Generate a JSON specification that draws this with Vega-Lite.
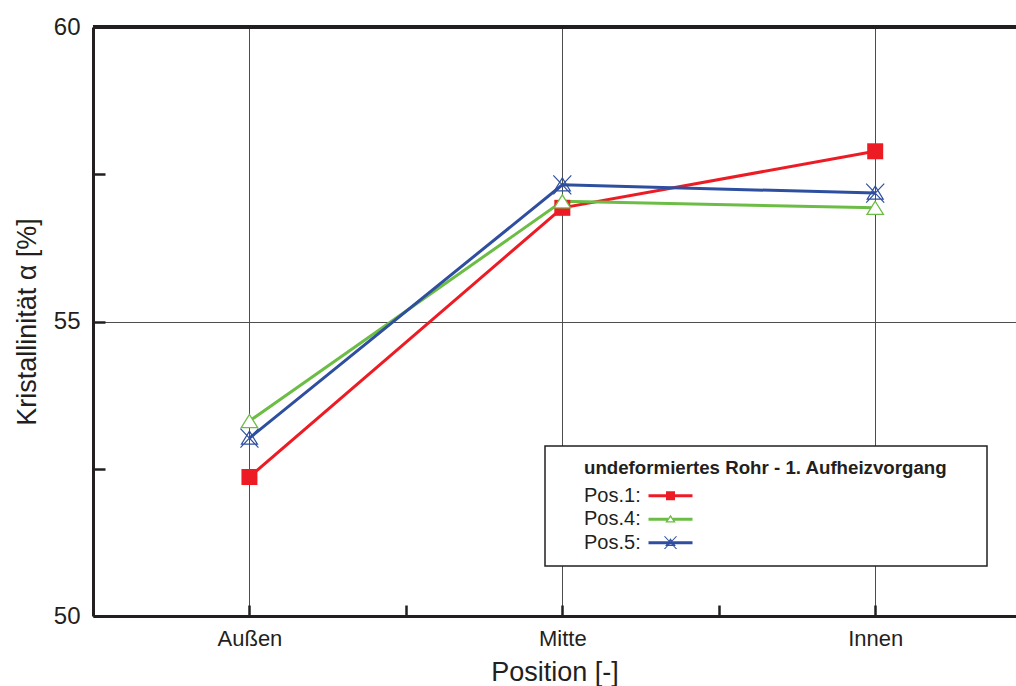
{
  "$schema": "https://vega.github.io/schema/vega-lite/v6.json",
  "width": 923,
  "height": 589,
  "autosize": {"type": "none"},
  "padding": {"left": 93, "top": 27, "right": 0, "bottom": 70},
  "background": "white",
  "config": {"font": "Liberation Sans", "view": {"stroke": null}},
  "data": {
    "values": [
      {"pos": 1, "position": "Außen", "series": "Pos.1", "value": 52.36},
      {"pos": 2, "position": "Mitte", "series": "Pos.1", "value": 56.93},
      {"pos": 3, "position": "Innen", "series": "Pos.1", "value": 57.89},
      {"pos": 1, "position": "Außen", "series": "Pos.4", "value": 53.31},
      {"pos": 2, "position": "Mitte", "series": "Pos.4", "value": 57.04},
      {"pos": 3, "position": "Innen", "series": "Pos.4", "value": 56.93},
      {"pos": 1, "position": "Außen", "series": "Pos.5", "value": 53.02},
      {"pos": 2, "position": "Mitte", "series": "Pos.5", "value": 57.32},
      {"pos": 3, "position": "Innen", "series": "Pos.5", "value": 57.18}
    ]
  },
  "layer": [
    {
      "mark": {"type": "rule", "color": "#231f20", "strokeWidth": 3},
      "encoding": {"y": {"datum": 60}}
    },
    {
      "mark": {"type": "line", "strokeWidth": 3},
      "encoding": {
        "x": {
          "field": "pos", "type": "quantitative",
          "scale": {"domain": [0.5, 3.45], "nice": false, "zero": false},
          "axis": {
            "title": "Position [-]",
            "values": [1, 1.5, 2, 2.5, 3],
            "labelExpr": "datum.value === 1 ? 'Außen' : datum.value === 2 ? 'Mitte' : datum.value === 3 ? 'Innen' : ''",
            "labelFontSize": 22, "labelColor": "#231f20", "labelPadding": 23,
            "labelFlush": false, "labelOverlap": false,
            "tickSize": -11, "tickWidth": 2.5, "tickColor": "#231f20",
            "domainColor": "#231f20", "domainWidth": 3,
            "grid": true, "gridColor": "#4d4d4d", "gridWidth": 1,
            "gridOpacity": {"condition": {"test": "datum.value % 1 === 0", "value": 1}, "value": 0},
            "titleFontSize": 27, "titleFontWeight": "normal", "titleColor": "#231f20", "titlePadding": 10,
            "encode": {
              "ticks": {"update": {"y2": {"signal": "datum.value % 1 === 0 ? -11 : -6"}}}
            }
          }
        },
        "y": {
          "field": "value", "type": "quantitative",
          "scale": {"domain": [50, 60], "nice": false, "zero": false},
          "axis": {
            "title": "Kristallinität α [%]",
            "values": [50, 52.5, 55, 57.5, 60],
            "format": "d",
            "labelExpr": "datum.value % 5 === 0 ? datum.label : ''",
            "labelFontSize": 24, "labelColor": "#231f20", "labelPadding": 25,
            "labelFlush": false, "labelOverlap": false,
            "tickSize": -12, "tickWidth": 2.5, "tickColor": "#231f20",
            "domainColor": "#231f20", "domainWidth": 3,
            "grid": true, "gridColor": "#4d4d4d", "gridWidth": 1,
            "gridOpacity": {"condition": {"test": "datum.value % 5 === 0", "value": 1}, "value": 0},
            "titleFontSize": 27, "titleFontWeight": "normal", "titleColor": "#231f20", "titlePadding": 12,
            "encode": {
              "ticks": {"update": {"x2": {"signal": "datum.value % 5 === 0 ? 12 : 7"}}}
            }
          }
        },
        "color": {
          "field": "series", "type": "nominal",
          "scale": {"domain": ["Pos.1", "Pos.4", "Pos.5"], "range": ["#ed1c24", "#6cbd45", "#2e4e9f"]},
          "legend": {
            "title": "\u200b\u00a0\u00a0\u00a0\u00a0\u00a0undeformiertes Rohr - 1. Aufheizvorgang\u00a0\u00a0\u00a0\u00a0\u00a0\u200b",
            "orient": "none", "legendX": 452, "legendY": 419,
            "titleFontSize": 18.7, "titleFontWeight": "bold", "titleColor": "#231f20",
            "titlePadding": 8, "titleLimit": 2000,
            "labelFontSize": 20, "labelColor": "#231f20",
            "labelExpr": "datum.label + ':'",
            "labelOffset": -96.5, "symbolOffset": 102.5, "symbolSize": 100,
            "rowPadding": 3.5, "padding": 13,
            "fillColor": "white", "strokeColor": "#231f20",
            "encode": {
              "legend": {"update": {"strokeWidth": {"value": 1.5}}},
              "symbols": {
                "update": {
                  "shape": {"signal": "datum.value === 'Pos.1' ? 'M-4.4,-0.3L4.4,-0.3L4.4,0.3L-4.4,0.3Z M-0.9,-0.9L0.9,-0.9L0.9,0.9L-0.9,0.9Z' : datum.value === 'Pos.4' ? 'M-4.4,-0.3L-0.5,-0.3L-0.5,0.3L-4.4,0.3Z M0.5,-0.3L4.4,-0.3L4.4,0.3L0.5,0.3Z M0,-0.88L1.06,0.66L-1.06,0.66Z M0,-0.41L-0.55,0.4L0.55,0.4Z' : 'M-4.4,-0.3L4.4,-0.3L4.4,0.3L-4.4,0.3Z M0,-0.88L1.06,0.66L-1.06,0.66Z M0,-0.41L-0.55,0.4L0.55,0.4Z M-1.33,-1.28L-1.07,-1.28L1.33,1.28L1.07,1.28Z M1.07,-1.28L1.33,-1.28L-1.07,1.28L-1.33,1.28Z'"},
                  "fill": {"scale": "color", "field": "value"},
                  "stroke": {"value": "transparent"},
                  "strokeWidth": {"value": 0},
                  "opacity": {"value": 1}
                }
              }
            }
          }
        }
      }
    },
    {
      "transform": [{"filter": "datum.series === 'Pos.1'"}],
      "mark": {"type": "point", "shape": "square", "size": 256, "filled": true, "fill": "#ed1c24", "strokeWidth": 0, "opacity": 1},
      "encoding": {
        "x": {"field": "pos", "type": "quantitative"},
        "y": {"field": "value", "type": "quantitative"}
      }
    },
    {
      "transform": [{"filter": "datum.series === 'Pos.4'"}],
      "mark": {"type": "point", "shape": "M0,-0.8L1,0.8L-1,0.8Z", "size": 269, "filled": false, "fill": "white", "fillOpacity": 1, "stroke": "#6cbd45", "strokeWidth": 1.3, "opacity": 1},
      "encoding": {
        "x": {"field": "pos", "type": "quantitative"},
        "y": {"field": "value", "type": "quantitative"}
      }
    },
    {
      "transform": [{"filter": "datum.series === 'Pos.5'"}],
      "mark": {"type": "point", "shape": "M0,-0.7L0.8,0.6L-0.8,0.6Z M-0.9,-0.95L0.9,0.95 M0.9,-0.95L-0.9,0.95", "size": 400, "filled": false, "stroke": "#2e4e9f", "strokeWidth": 1.2, "opacity": 1},
      "encoding": {
        "x": {"field": "pos", "type": "quantitative"},
        "y": {"field": "value", "type": "quantitative"}
      }
    }
  ]
}
